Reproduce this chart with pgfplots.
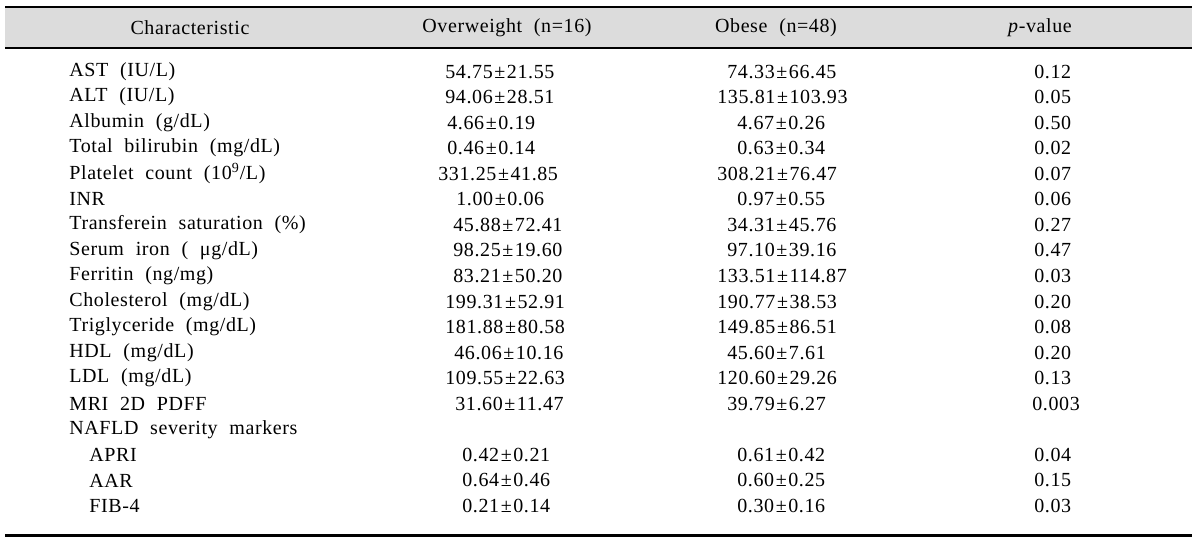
\documentclass[border=0pt]{standalone}
\usepackage{pgfplots}
\pgfplotsset{compat=1.18}
\usepackage{fontspec}
\setmainfont{Liberation Serif}[WordSpace=2.1, LetterSpace=3]
\definecolor{hdr}{RGB}{220,220,220}
\newcommand{\pmm}{\kern0.08em±\kern0.08em}
\pgfplotsset{
  cellW/.style={draw=none, mark=none, forget plot, nodes near coords, point meta=explicit symbolic,
     nodes near coords align={anchor=west}},
  cellC/.style={draw=none, mark=none, forget plot, nodes near coords, point meta=explicit symbolic,
     nodes near coords align={anchor=center}},
}
\begin{document}
\begin{tikzpicture}[font=\fontsize{10}{12}\selectfont]
\begin{axis}[width=600pt, height=270.5pt, scale only axis,
  xmin=0, xmax=1200, ymin=0, ymax=541, y dir=reverse,
  axis lines=none, clip=false,
  every node near coord/.append style={inner sep=0pt, text=black}]
\path[fill=white] (axis cs:0,0) rectangle (axis cs:1200,541);
\fill[hdr] (axis cs:5,7) rectangle (axis cs:1192,47);
\draw[line width=1pt] (axis cs:5,6.5) -- (axis cs:1192,6.5);
\draw[line width=1pt] (axis cs:5,48) -- (axis cs:1192,48);
\draw[line width=1.5pt] (axis cs:5,535) -- (axis cs:1192,535);

% header
\addplot[cellC] coordinates {
 (190,28) [Characteristic]
 (507,28) [Overweight (n=16)]
 (776,28) [Obese (n=48)]
 (1040,28) [\textit{p}-value]
};

% characteristics
\addplot[cellW] coordinates {
 (69,71.5) [AST (IU/L)]
 (69,97.05) [ALT (IU/L)]
 (69,122.6) [Albumin (g/dL)]
 (69,148.15) [Total bilirubin (mg/dL)]
 (69,173.7) [Platelet count (10\textsuperscript{9}/L)]
 (69,199.25) [INR]
 (69,224.8) [Transferein saturation (\%)]
 (69,250.35) [Serum iron ( μg/dL)]
 (69,275.9) [Ferritin (ng/mg)]
 (69,301.45) [Cholesterol (mg/dL)]
 (69,327.0) [Triglyceride (mg/dL)]
 (69,352.55) [HDL (mg/dL)]
 (69,378.1) [LDL (mg/dL)]
 (69,403.65) [MRI 2D PDFF]
 (69,429.2) [NAFLD severity markers]
 (89,454.75) [APRI]
 (89,480.3) [AAR]
 (89,505.85) [FIB-4]
};

% overweight
\addplot[cellW] coordinates {
 (445,71.5) [54.75\pmm21.55]
 (445,97.05) [94.06\pmm28.51]
 (447,122.6) [4.66\pmm0.19]
 (447,148.15) [0.46\pmm0.14]
 (438,173.7) [331.25\pmm41.85]
 (456,199.25) [1.00\pmm0.06]
 (453,224.8) [45.88\pmm72.41]
 (453,250.35) [98.25\pmm19.60]
 (453,275.9) [83.21\pmm50.20]
 (445,301.45) [199.31\pmm52.91]
 (445,327.0) [181.88\pmm80.58]
 (454,352.55) [46.06\pmm10.16]
 (445,378.1) [109.55\pmm22.63]
 (455,403.65) [31.60\pmm11.47]
 (462,454.75) [0.42\pmm0.21]
 (462,480.3) [0.64\pmm0.46]
 (462,505.85) [0.21\pmm0.14]
};

% obese
\addplot[cellW] coordinates {
 (727,71.5) [74.33\pmm66.45]
 (717,97.05) [135.81\pmm103.93]
 (737,122.6) [4.67\pmm0.26]
 (737,148.15) [0.63\pmm0.34]
 (717,173.7) [308.21\pmm76.47]
 (737,199.25) [0.97\pmm0.55]
 (727,224.8) [34.31\pmm45.76]
 (727,250.35) [97.10\pmm39.16]
 (717,275.9) [133.51\pmm114.87]
 (717,301.45) [190.77\pmm38.53]
 (717,327.0) [149.85\pmm86.51]
 (727,352.55) [45.60\pmm7.61]
 (717,378.1) [120.60\pmm29.26]
 (727,403.65) [39.79\pmm6.27]
 (737,454.75) [0.61\pmm0.42]
 (737,480.3) [0.60\pmm0.25]
 (737,505.85) [0.30\pmm0.16]
};

% p-values
\addplot[cellW] coordinates {
 (1034,71.5) [0.12]
 (1034,97.05) [0.05]
 (1034,122.6) [0.50]
 (1034,148.15) [0.02]
 (1034,173.7) [0.07]
 (1034,199.25) [0.06]
 (1034,224.8) [0.27]
 (1034,250.35) [0.47]
 (1034,275.9) [0.03]
 (1034,301.45) [0.20]
 (1034,327.0) [0.08]
 (1034,352.55) [0.20]
 (1034,378.1) [0.13]
 (1032,403.65) [0.003]
 (1034,454.75) [0.04]
 (1034,480.3) [0.15]
 (1034,505.85) [0.03]
};
\end{axis}
\end{tikzpicture}
\end{document}
